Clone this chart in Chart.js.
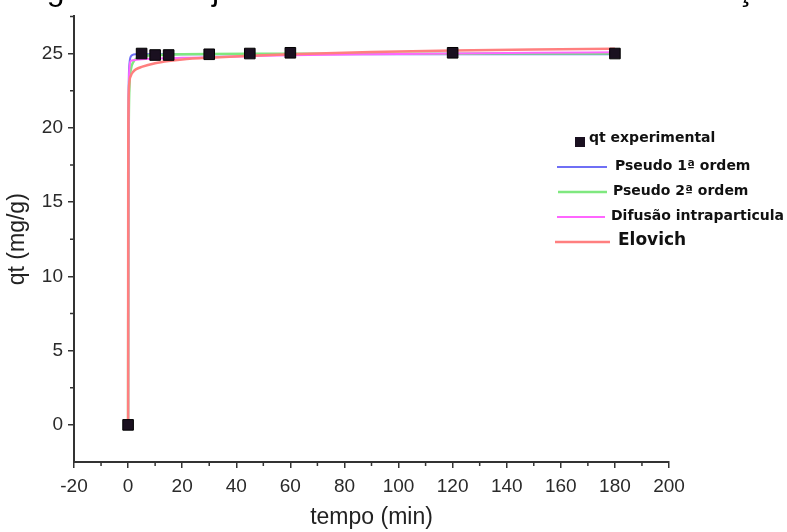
<!DOCTYPE html>
<html><head><meta charset="utf-8">
<script src="https://cdn.jsdelivr.net/npm/chart.js@4.4.1/dist/chart.umd.min.js"></script>
<style>html,body{margin:0;padding:0;background:#fff;}canvas{display:block;}</style>
</head><body>
<canvas id="c" width="787" height="532"></canvas>
<script>
// ---- data ----
const figureTitle = "Figura 13 – Ajuste dos modelos cinéticos de adsorção";
const xTitle = "tempo (min)";
const yTitle = "qt (mg/g)";
const xTicks = [-20, 0, 20, 40, 60, 80, 100, 120, 140, 160, 180, 200];
const xMinorTicks = [-10, 10, 30, 50, 70, 90, 110, 130, 150, 170, 190];
const yTicks = [0, 5, 10, 15, 20, 25];
const yMinorTicks = [2.5, 7.5, 12.5, 17.5, 22.5, 27.5];
const seriesLabels = ["qt experimental", "Pseudo 1ª ordem", "Pseudo 2ª ordem", "Difusão intraparticula", "Elovich"];

const tempoExp = [0, 5, 10, 15, 30, 45, 60, 120, 180];
const qtExp = [0, 25.0, 24.9, 24.9, 24.95, 25.0, 25.05, 25.05, 25.0];

const tempoFit = [0, 0.05, 0.1, 0.2, 0.5, 1, 2, 3, 5, 10, 15, 20, 30, 45, 60, 90, 120, 150, 180];
const qtPseudo1 = [0, 10, 18, 22.5, 24.3, 24.8, 24.93, 24.95, 24.96, 24.96, 24.96, 24.96, 24.96, 24.96, 24.96, 24.96, 24.96, 24.96, 24.96];
const qtPseudo2 = [0, 8, 14, 19, 22.8, 23.9, 24.45, 24.65, 24.8, 24.9, 24.93, 24.95, 24.97, 24.98, 24.98, 24.99, 24.99, 25.0, 25.0];
const qtDifusao = [0, 10, 15, 21, 24.0, 24.5, 24.55, 24.58, 24.62, 24.66, 24.69, 24.71, 24.75, 24.82, 24.88, 24.95, 25.0, 25.05, 25.08];
const qtElovich = [0, 18, 20.5, 22, 23.1, 23.5, 23.8, 23.95, 24.1, 24.35, 24.5, 24.6, 24.72, 24.85, 24.95, 25.1, 25.2, 25.27, 25.32];

// ---- build ----
const pts = (xs, ys) => xs.map((x, i) => ({x: x, y: ys[i]}));
const lineDs = (label, ys, color, w) => ({
  label: label, data: pts(tempoFit, ys), showLine: true, borderColor: color,
  backgroundColor: color, borderWidth: w, pointRadius: 0, cubicInterpolationMode: 'monotone'
});

const datasets = [
  {label: seriesLabels[0], data: pts(tempoExp, qtExp), showLine: false, pointStyle: 'rect',
   pointRadius: 7.5, backgroundColor: '#1a1020', borderColor: '#000', borderWidth: 1},
  lineDs(seriesLabels[4], qtElovich, '#ff7f7f', 2.5),
  lineDs(seriesLabels[3], qtDifusao, '#ff66ff', 2),
  lineDs(seriesLabels[2], qtPseudo2, '#7fe87f', 2.5),
  lineDs(seriesLabels[1], qtPseudo1, '#6f6ff5', 2)
];

const axisColor = '#333';
const fam = '"Liberation Sans", Arial, sans-serif';
const tickFont = {family: fam, size: 19};

const decorPlugin = {
  id: 'decor',
  beforeDraw(chart) {
    const ctx = chart.ctx;
    ctx.save();
    ctx.fillStyle = '#fff';
    ctx.fillRect(0, 0, chart.width, chart.height);
    ctx.fillStyle = '#000';
    ctx.font = '32px ' + fam;
    ctx.textBaseline = 'alphabetic';
    ctx.textAlign = 'left';
    ctx.fillText(figureTitle, 20, 0);
    ctx.restore();
  },
  afterDraw(chart) {
    const ctx = chart.ctx;
    const xs = chart.scales.x, ys = chart.scales.y;
    ctx.save();
    ctx.strokeStyle = axisColor;
    ctx.lineWidth = 1.5;
    ctx.beginPath();
    xMinorTicks.forEach(v => {
      const px = xs.getPixelForValue(v);
      ctx.moveTo(px, xs.top); ctx.lineTo(px, xs.top + 4);
    });
    yMinorTicks.forEach(v => {
      const py = ys.getPixelForValue(v);
      ctx.moveTo(ys.right, py); ctx.lineTo(ys.right - 4, py);
    });
    ctx.stroke();

    // legend
    const ds = chart.data.datasets;
    const byLabel = l => ds.find(d => d.label === l);
    ctx.textBaseline = 'middle';
    ctx.textAlign = 'left';
    const e = byLabel(seriesLabels[0]);
    ctx.fillStyle = e.backgroundColor;
    ctx.fillRect(575, 137, 10, 10);
    ctx.fillStyle = '#111';
    ctx.font = 'bold 14px "DejaVu Sans", sans-serif';
    ctx.fillText(seriesLabels[0], 589, 138);
    const entries = [
      {l: seriesLabels[1], y: 167, x1: 557, x2: 607, tx: 615, f: 14},
      {l: seriesLabels[2], y: 192, x1: 558, x2: 607, tx: 613, f: 14},
      {l: seriesLabels[3], y: 217, x1: 557, x2: 605, tx: 611, f: 14},
      {l: seriesLabels[4], y: 242, x1: 555, x2: 610, tx: 618, f: 17}
    ];
    entries.forEach(en => {
      const d = byLabel(en.l);
      ctx.strokeStyle = d.borderColor;
      ctx.lineWidth = d.borderWidth;
      ctx.beginPath(); ctx.moveTo(en.x1, en.y); ctx.lineTo(en.x2, en.y); ctx.stroke();
      ctx.fillStyle = '#111';
      ctx.font = 'bold ' + en.f + 'px "DejaVu Sans", sans-serif';
      ctx.fillText(en.l, en.tx, en.y - 1);
    });
    ctx.restore();
  }
};

new Chart(document.getElementById('c'), {
  type: 'scatter',
  data: {datasets: datasets},
  options: {
    responsive: false,
    animation: false,
    layout: {padding: {top: 15, right: 118, left: 0, bottom: 0}},
    plugins: {legend: {display: false}, tooltip: {enabled: false}},
    scales: {
      x: {
        type: 'linear', min: -20, max: 200,
        afterBuildTicks: s => { s.ticks = xTicks.map(v => ({value: v})); },
        afterFit: s => { s.height = 70; },
        ticks: {font: tickFont, color: '#2a2a2a', padding: 7, maxRotation: 0, autoSkip: false},
        grid: {drawOnChartArea: false, drawTicks: true, tickLength: 6, color: axisColor, lineWidth: 1.5},
        border: {display: true, color: axisColor, width: 2},
        title: {display: true, text: xTitle, color: '#222',
                font: {family: fam, size: 23}, padding: {top: 0, bottom: 1}}
      },
      y: {
        type: 'linear', min: -2.5, max: 27.5,
        afterBuildTicks: s => { s.ticks = yTicks.map(v => ({value: v})); },
        afterFit: s => { s.width = 74; },
        ticks: {font: tickFont, color: '#2a2a2a', padding: 5},
        grid: {drawOnChartArea: false, drawTicks: true, tickLength: 6, color: axisColor, lineWidth: 1.5},
        border: {display: true, color: axisColor, width: 2},
        title: {display: true, text: yTitle, color: '#222',
                font: {family: fam, size: 23}, padding: {top: 4, bottom: 0}}
      }
    }
  },
  plugins: [decorPlugin]
});
</script>
</body></html>
